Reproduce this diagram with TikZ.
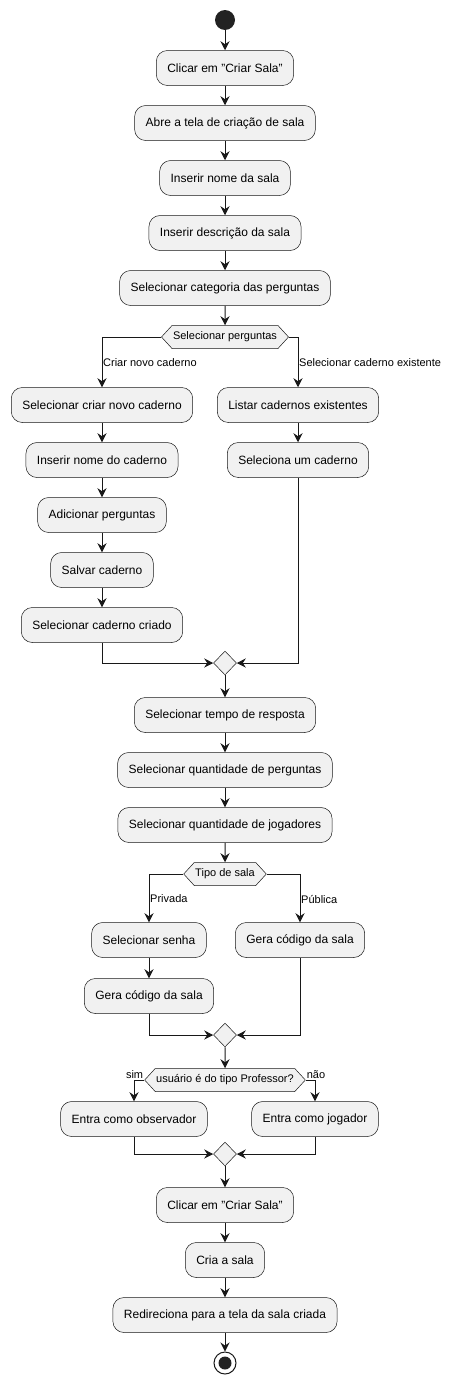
\documentclass[tikz,border=0pt]{standalone}
\usepackage{fontspec}
\setmainfont{Liberation Sans}
\usetikzlibrary{arrows.meta,shapes.geometric,shapes.symbols}
\definecolor{actfill}{HTML}{F1F1F1}
\definecolor{actline}{HTML}{181818}
\definecolor{dotc}{HTML}{222222}

\begin{document}
\begin{tikzpicture}
		[x=1pt,y=-1pt,
		act/.style={rectangle,rounded corners=11pt,draw=actline,fill=actfill,line width=0.5pt,minimum height=35pt,inner xsep=11pt,font=\fontsize{12}{14}\selectfont},
		dec/.style={signal,signal to=east and west,signal pointer angle=95,draw=actline,fill=actfill,line width=0.5pt,minimum height=23pt,inner xsep=1pt,inner ysep=0pt,font=\fontsize{11}{13}\selectfont},
		merge/.style={diamond,draw=actline,fill=actfill,line width=0.5pt,inner sep=0pt,minimum width=23pt,minimum height=24pt},
		lbl/.style={inner sep=1pt,font=\fontsize{11}{13}\selectfont},
		edge/.style={->,> = {Stealth[length=9pt,width=9pt,inset=3pt]},draw=actline,line width=1pt}]
		\useasboundingbox (0,0) rectangle (450,1384);
		\node[circle,fill=dotc,minimum size=20pt,inner sep=0pt] (start) at (225,20) {};
		\node[act] (b1) at (225,68)  {Clicar em "Criar Sala"};
		\node[act] (b2) at (225,123) {Abre a tela de criação de sala};
		\node[act] (b3) at (225,178) {Inserir nome da sala};
		\node[act] (b4) at (225,233) {Inserir descrição da sala};
		\node[act] (b5) at (225,288) {Selecionar categoria das perguntas};
		\node[dec] (d1) at (225,337) {Selecionar perguntas};
		
		\node[act] (l1) at (102,405) {Selecionar criar novo caderno};
		\node[act] (l2) at (102,460) {Inserir nome do caderno};
		\node[act] (l3) at (102,515) {Adicionar perguntas};
		\node[act] (l4) at (102,570) {Salvar caderno};
		\node[act] (l5) at (102,625) {Selecionar caderno criado};
		\node[act] (r1) at (298,405) {Listar cadernos existentes};
		\node[act] (r2) at (298,460) {Seleciona um caderno};
		\node[merge] (m1) at (225,663) {};
		
		\node[act] (a1) at (225,715) {Selecionar tempo de resposta};
		\node[act] (a2) at (225,770) {Selecionar quantidade de perguntas};
		\node[act] (a3) at (225,825) {Selecionar quantidade de jogadores};
		\node[dec] (d2) at (225,874) {Tipo de sala};
		\node[act] (p1) at (149,940) {Selecionar senha};
		\node[act] (p2) at (149,996) {Gera código da sala};
		\node[act] (q1) at (300,940) {Gera código da sala};
		\node[merge] (m2) at (225,1035) {};
		
		\node[dec] (d3) at (225,1080) {usuário é do tipo Professor?};
		\node[act] (o1) at (134,1119) {Entra como observador};
		\node[act] (j1) at (315,1119) {Entra como jogador};
		\node[merge] (m3) at (225,1154) {};
		
		\node[act] (c1) at (225,1205) {Clicar em "Criar Sala"};
		\node[act] (c2) at (225,1260) {Cria a sala};
		\node[act] (c3) at (225,1315) {Redireciona para a tela da sala criada};
		\node[circle,draw=actline,fill=white,line width=1pt,minimum size=22pt,inner sep=0pt] (stop) at (225,1363) {};
		\node[circle,fill=dotc,minimum size=13pt,inner sep=0pt] (stopdot) at (stop) {};
		
		\node[lbl,anchor=west] (lnovo) at (102,363) {Criar novo caderno};
		\node[lbl,anchor=west] (lexist) at (298,363) {Selecionar caderno existente};
		\node[lbl,anchor=west] (lpriv) at (149,899) {Privada};
		\node[lbl,anchor=west] (lpub) at (300,899) {Pública};
		\node[lbl,anchor=south east] (lsim) at (d3.west) {sim};
		\node[lbl,anchor=south west] (lnao) at (d3.east) {não};
		
		\foreach \from/\to in {start/b1,b1/b2,b2/b3,b3/b4,b4/b5,b5/d1,l1/l2,l2/l3,l3/l4,l4/l5,r1/r2,m1/a1,a1/a2,a2/a3,a3/d2,p1/p2,m2/d3,m3/c1,c1/c2,c2/c3,c3/stop}
		\draw[edge] (\from) -- (\to);
		\foreach \from/\to in {d1.west/l1,d1.east/r1,d2.west/p1,d2.east/q1,d3.west/o1,d3.east/j1}
		\draw[edge] (\from) -| (\to.north);
		\foreach \from/\to in {l5/m1.west,r2/m1.east,p2/m2.west,q1/m2.east,o1/m3.west,j1/m3.east}
		\draw[edge] (\from.south) |- (\to);
		\end{tikzpicture}
\end{document}
